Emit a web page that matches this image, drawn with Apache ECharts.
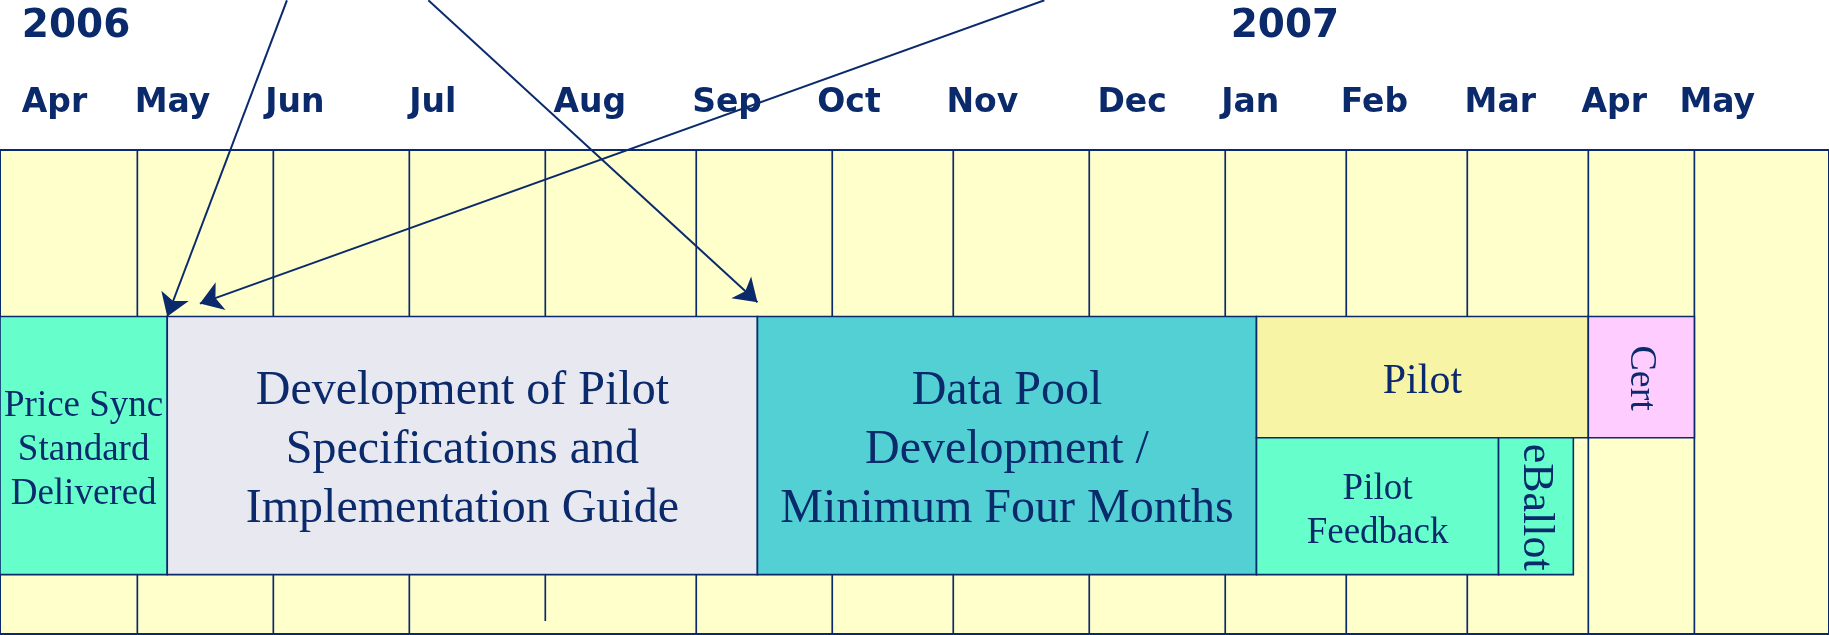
<!DOCTYPE html>
<html>
<head>
<meta charset="utf-8">
<title>Pilot timeline 2006 - 2007</title>
<script src="https://cdn.jsdelivr.net/npm/echarts@6/dist/echarts.min.js"></script>
<style>
  html, body { margin: 0; padding: 0; background: #fff; }
  #chart { width: 1829px; height: 635px; }
</style>
</head>
<body>
<div id="chart"></div>
<script>
// x = months counted from the start of Apr 2006 (as drawn on the slide)
const months = ['Apr', 'May', 'Jun', 'Jul', 'Aug', 'Sep', 'Oct', 'Nov', 'Dec', 'Jan', 'Feb', 'Mar', 'Apr', 'May'];
const monthStart = [0, 1.01, 2.01, 3.01, 4.01, 5.12, 6.12, 7.01, 8.01, 9.01, 9.9, 10.79, 11.68, 12.46];
const monthLabelAt = [0.16, 0.99, 1.95, 3.01, 4.07, 5.09, 6.01, 6.96, 8.07, 8.98, 9.86, 10.77, 11.63, 12.35];
const years = ['2006', '2007'];
const yearLabelAt = [0.16, 9.05];

// tasks: start / end in months, lanes 0..2 (upper lane 0..0.94, lower lane 0.94..2)
const taskNames = [
  'Price Sync\nStandard\nDelivered',
  'Development of Pilot\nSpecifications and\nImplementation Guide',
  'Data Pool\nDevelopment /\nMinimum Four Months',
  'Pilot',
  'Cert',
  'Pilot\nFeedback',
  'eBallot'
];
const taskStart = [0, 1.23, 5.57, 9.24, 11.68, 9.24, 11.02];
const taskEnd = [1.23, 5.57, 9.24, 11.68, 12.46, 11.02, 11.57];
const taskLaneFrom = [0, 0, 0, 0, 0, 0.94, 0.94];
const taskLaneTo = [2, 2, 2, 0.94, 0.94, 2, 2];

// arrows coming in from above the slide
const arrowFrom = [[2.11, -2.45], [3.15, -2.45], [7.68, -2.45]];
const arrowTo = [[1.23, 0], [5.57, -0.11], [1.47, -0.1]];

const ink = '#0a2a6b';
const yMin = -1.29, yMax = 2.46;

// look of each task box (same order as taskNames)
const taskLook = [
  { color: '#66FFCC', size: 37, lh: 44 },
  { color: '#E8E8F1', size: 48, lh: 59 },
  { color: '#52D0D4', size: 48, lh: 59 },
  { color: '#F7F4A6', size: 42, lh: 44 },
  { color: '#FFCCFF', size: 38, lh: 40, vertical: true },
  { color: '#66FFCC', size: 37, lh: 44 },
  { color: '#66FFCC', size: 44, lh: 44, vertical: true }
];

function renderEdge(params, api) {
  var top = api.coord([api.value(0), yMin]);
  var bot = api.coord([api.value(0), api.value(1)]);
  return {
    type: 'line',
    shape: { x1: top[0], y1: top[1], x2: bot[0], y2: bot[1] },
    style: { stroke: ink, lineWidth: 1.7 }
  };
}

function renderTask(params, api) {
  var i = params.dataIndex;
  var a = api.coord([api.value(0), api.value(2)]);
  var b = api.coord([api.value(1), api.value(3)]);
  var s = taskLook[i];
  var w = b[0] - a[0], h = b[1] - a[1];
  return {
    type: 'group',
    children: [
      {
        type: 'rect',
        shape: { x: a[0], y: a[1], width: w, height: h },
        style: { fill: s.color, stroke: ink, lineWidth: 1.6 }
      },
      {
        type: 'text',
        x: a[0] + w / 2,
        y: a[1] + h / 2 + (s.vertical ? 1 : 5),
        rotation: s.vertical ? -Math.PI / 2 : 0,
        style: {
          text: taskNames[i],
          fill: ink,
          fontFamily: 'Liberation Serif',
          fontSize: s.size,
          lineHeight: s.lh,
          align: 'center',
          verticalAlign: 'middle'
        }
      }
    ]
  };
}

var myChart = echarts.init(document.getElementById('chart'));
var option = {
  animation: false,
  grid: {
    left: 0, right: -2, top: 150, bottom: 1,
    show: true, backgroundColor: '#FFFFCC', borderColor: ink, borderWidth: 2
  },
  xAxis: { type: 'value', min: 0, max: 13.45, show: false },
  yAxis: { type: 'value', min: yMin, max: yMax, inverse: true, show: false },
  series: [
    {
      // month separators (the Jul/Aug one stops short at the bottom)
      type: 'custom',
      z: 1,
      silent: true,
      clip: false,
      renderItem: renderEdge,
      data: monthStart.slice(1).map(function (x, k) {
        return [x, k + 1 === 4 ? 2.36 : yMax];
      })
    },
    {
      type: 'custom',
      z: 2,
      silent: true,
      clip: false,
      renderItem: renderTask,
      data: taskNames.map(function (n, i) {
        return [taskStart[i], taskEnd[i], taskLaneFrom[i], taskLaneTo[i]];
      })
    },
    {
      type: 'lines',
      coordinateSystem: 'cartesian2d',
      z: 3,
      silent: true,
      clip: false,
      symbol: ['none', 'arrow'],
      symbolSize: 22,
      lineStyle: { color: ink, width: 2, opacity: 1, curveness: 0 },
      data: arrowFrom.map(function (f, i) {
        return { coords: [f, arrowTo[i]] };
      })
    },
    {
      type: 'scatter',
      z: 4,
      silent: true,
      clip: false,
      symbolSize: 0,
      itemStyle: { opacity: 1 },
      data: monthLabelAt.map(function (x, i) {
        return { name: months[i], value: [x, yMin] };
      }),
      label: {
        show: true, position: 'right', distance: 0, offset: [0, -47],
        formatter: function (p) { return p.name; },
        color: ink, opacity: 1, fontFamily: 'DejaVu Sans', fontWeight: 'bold', fontSize: 33
      }
    },
    {
      type: 'scatter',
      z: 4,
      silent: true,
      clip: false,
      symbolSize: 0,
      itemStyle: { opacity: 1 },
      data: yearLabelAt.map(function (x, i) {
        return { name: years[i], value: [x, yMin] };
      }),
      label: {
        show: true, position: 'right', distance: 0, offset: [0, -123],
        formatter: function (p) { return p.name; },
        color: ink, opacity: 1, fontFamily: 'DejaVu Sans', fontWeight: 'bold', fontSize: 39
      }
    }
  ]
};
myChart.setOption(option);
window.onresize = function () {
  myChart.resize();
};
</script>
</body>
</html>
